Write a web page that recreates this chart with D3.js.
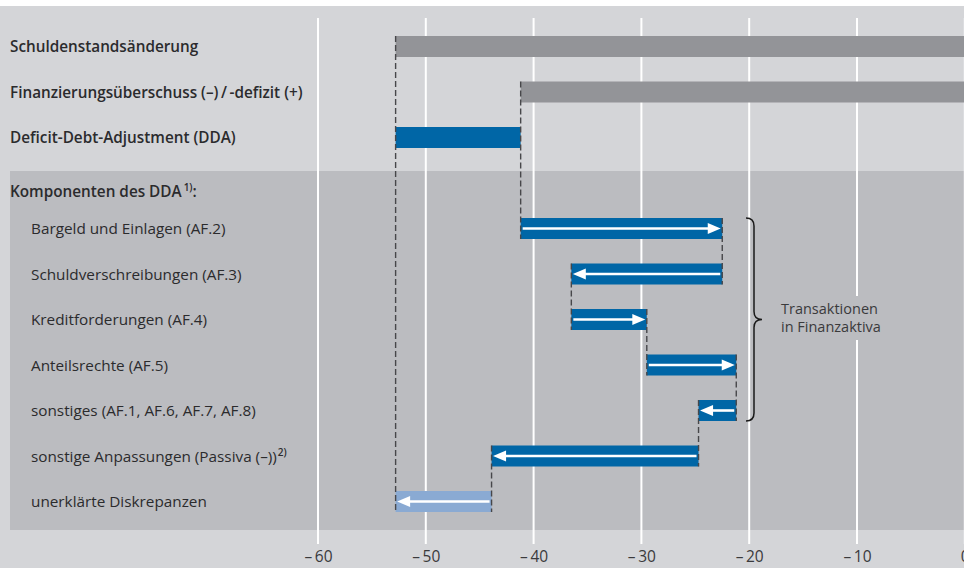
<!DOCTYPE html>
<html>
<head>
<meta charset="utf-8">
<script src="https://cdn.jsdelivr.net/npm/d3@7/dist/d3.min.js"></script>
<style>
  body { margin: 0; background: #fff; }
  svg { display: block; font-family: "Open Sans", sans-serif; }
</style>
</head>
<body>
<svg id="chart" width="964" height="568"></svg>
<script>
// rows from top to bottom (index 3 is the section header)
var rowLabels = [
    "Schuldenstandsänderung",
    "Finanzierungsüberschuss (–)\u2009/\u2009-defizit (+)",
    "Deficit-Debt-Adjustment (DDA)",
    "Komponenten des DDA",
    "Bargeld und Einlagen (AF.2)",
    "Schuldverschreibungen (AF.3)",
    "Kreditforderungen (AF.4)",
    "Anteilsrechte (AF.5)",
    "sonstiges (AF.1, AF.6, AF.7, AF.8)",
    "sonstige Anpassungen (Passiva (–))",
    "unerklärte Diskrepanzen"
];
var schuldenstand = -52.8;
var finanzierung = -41.2;
// DDA components (changes, in the order of the waterfall)
var componentValues = [18.7, -14.0, 7.0, 8.3, -3.5, -19.2, -8.9];
var tickValues = [-60, -50, -40, -30, -20, -10, 0];
var noteLines = ["Transaktionen", "in Finanzaktiva"];

var width = 964, height = 568;
var svg = d3.select("#chart");

var x = d3.scaleLinear().domain([-60, 0]).range([318, 964.8]);
var y = d3.scalePoint().domain(d3.range(rowLabels.length)).range([46.5, 501.5]);
var barH = 21;

var blue = "#0066a6", lightBlue = "#8aaad3", grey = "#939498";

// backgrounds
svg.append("rect").attr("x", 0).attr("y", 6).attr("width", width).attr("height", height - 6).attr("fill", "#d4d5d8");
svg.append("rect").attr("x", 10).attr("y", 171).attr("width", width - 10).attr("height", 359).attr("fill", "#bbbcc0");

// grid lines
svg.append("g").selectAll("line").data(tickValues).join("line")
    .attr("x1", d => x(d)).attr("x2", d => x(d))
    .attr("y1", 18).attr("y2", 544)
    .attr("stroke", "#fff").attr("stroke-width", 2);

// axis labels
var axis = d3.axisBottom(x).tickValues(tickValues).tickSize(0).tickPadding(0)
    .tickFormat(d => d === 0 ? "0" : "–\u2009" + Math.abs(d));
var ax = svg.append("g").attr("transform", "translate(0,562)").call(axis);
ax.select(".domain").remove();
ax.selectAll("text").attr("y", 0).attr("dy", 0)
    .attr("font-size", 15.5).attr("fill", "#3a3a3c").attr("font-family", "Open Sans");

// bars
var bars = [
    { row: 0, from: schuldenstand, to: 0, color: grey },
    { row: 1, from: finanzierung, to: 0, color: grey },
    { row: 2, from: schuldenstand, to: finanzierung, color: blue }
];
var run = finanzierung;
componentValues.forEach(function (v, i) {
    bars.push({ row: 4 + i, from: run, to: run + v, color: i === componentValues.length - 1 ? lightBlue : blue, arrow: true });
    run += v;
});

svg.append("g").selectAll("rect").data(bars).join("rect")
    .attr("x", d => x(Math.min(d.from, d.to)))
    .attr("width", d => Math.abs(x(d.to) - x(d.from)))
    .attr("y", d => y(d.row) - barH / 2)
    .attr("height", barH)
    .attr("fill", d => d.color);

// dashed connectors
var conns = [{ v: schuldenstand, r0: 0, r1: 10 }, { v: finanzierung, r0: 1, r1: 4 }];
bars.filter(d => d.arrow).forEach(function (d, i, arr) {
    if (i < arr.length - 1) conns.push({ v: d.to, r0: d.row, r1: d.row + 1 });
});
svg.append("g").selectAll("line").data(conns).join("line")
    .attr("x1", d => x(d.v)).attr("x2", d => x(d.v))
    .attr("y1", d => y(d.r0) - barH / 2).attr("y2", d => y(d.r1) + barH / 2)
    .attr("stroke", "#47474a").attr("stroke-width", 1.4).attr("stroke-dasharray", "6,3");

// arrows
var arrows = svg.append("g").selectAll("g").data(bars.filter(d => d.arrow)).join("g");
arrows.each(function (d) {
    var g = d3.select(this);
    var dir = d.to > d.from ? 1 : -1;
    var x0 = x(d.from) + dir * 2, x1 = x(d.to) - dir * 1.5;
    var cy = y(d.row);
    var headL = 13, headH = 5.5;
    g.append("line").attr("x1", x0).attr("x2", x1 - dir * headL + dir * 1)
        .attr("y1", cy).attr("y2", cy).attr("stroke", "#fff").attr("stroke-width", 2.6);
    g.append("path")
        .attr("d", "M" + x1 + "," + cy + "L" + (x1 - dir * headL) + "," + (cy - headH) + "L" + (x1 - dir * headL) + "," + (cy + headH) + "Z")
        .attr("fill", "#fff");
});

// row labels
var labels = svg.append("g").selectAll("text").data(rowLabels).join("text")
    .attr("x", (d, i) => i < 4 ? 10 : 31)
    .attr("y", (d, i) => (i === 3 ? y(i) + 8 : y(i)) + 5.5)
    .attr("font-size", 15.3)
    .attr("font-weight", (d, i) => i < 4 ? 600 : 400)
    .attr("fill", "#2b2b2d")
    .text(d => d);
labels.filter((d, i) => i === 3).append("tspan").attr("dx", 2).attr("dy", -6).attr("font-size", 10).text("1)");
labels.filter((d, i) => i === 3).append("tspan").attr("dy", 6).text(":");
labels.filter((d, i) => i === 9).append("tspan").attr("dx", 1).attr("dy", -6).attr("font-size", 10).attr("font-weight", 600).text("2)");

// brace
var bx = 746, by0 = y(4) - barH / 2, by1 = y(8) + barH / 2, bm = (by0 + by1) / 2;
svg.append("path")
    .attr("d", "M" + bx + "," + by0 + " q8,0 8,8 L" + (bx + 8) + "," + (bm - 8) + " q0,8 8,8 q-8,0 -8,8 L" + (bx + 8) + "," + (by1 - 8) + " q0,8 -8,8")
    .attr("fill", "none").attr("stroke", "#1a1a1a").attr("stroke-width", 1.5);

svg.append("rect").attr("x", 776).attr("y", 296).attr("width", 116).attr("height", 44).attr("fill", "#bbbcc0");
svg.append("g").selectAll("text").data(noteLines).join("text")
    .attr("x", 781).attr("y", (d, i) => 314 + i * 18)
    .attr("font-size", 14.5).attr("fill", "#3a3a3c")
    .text(d => d);
</script>
</body>
</html>
